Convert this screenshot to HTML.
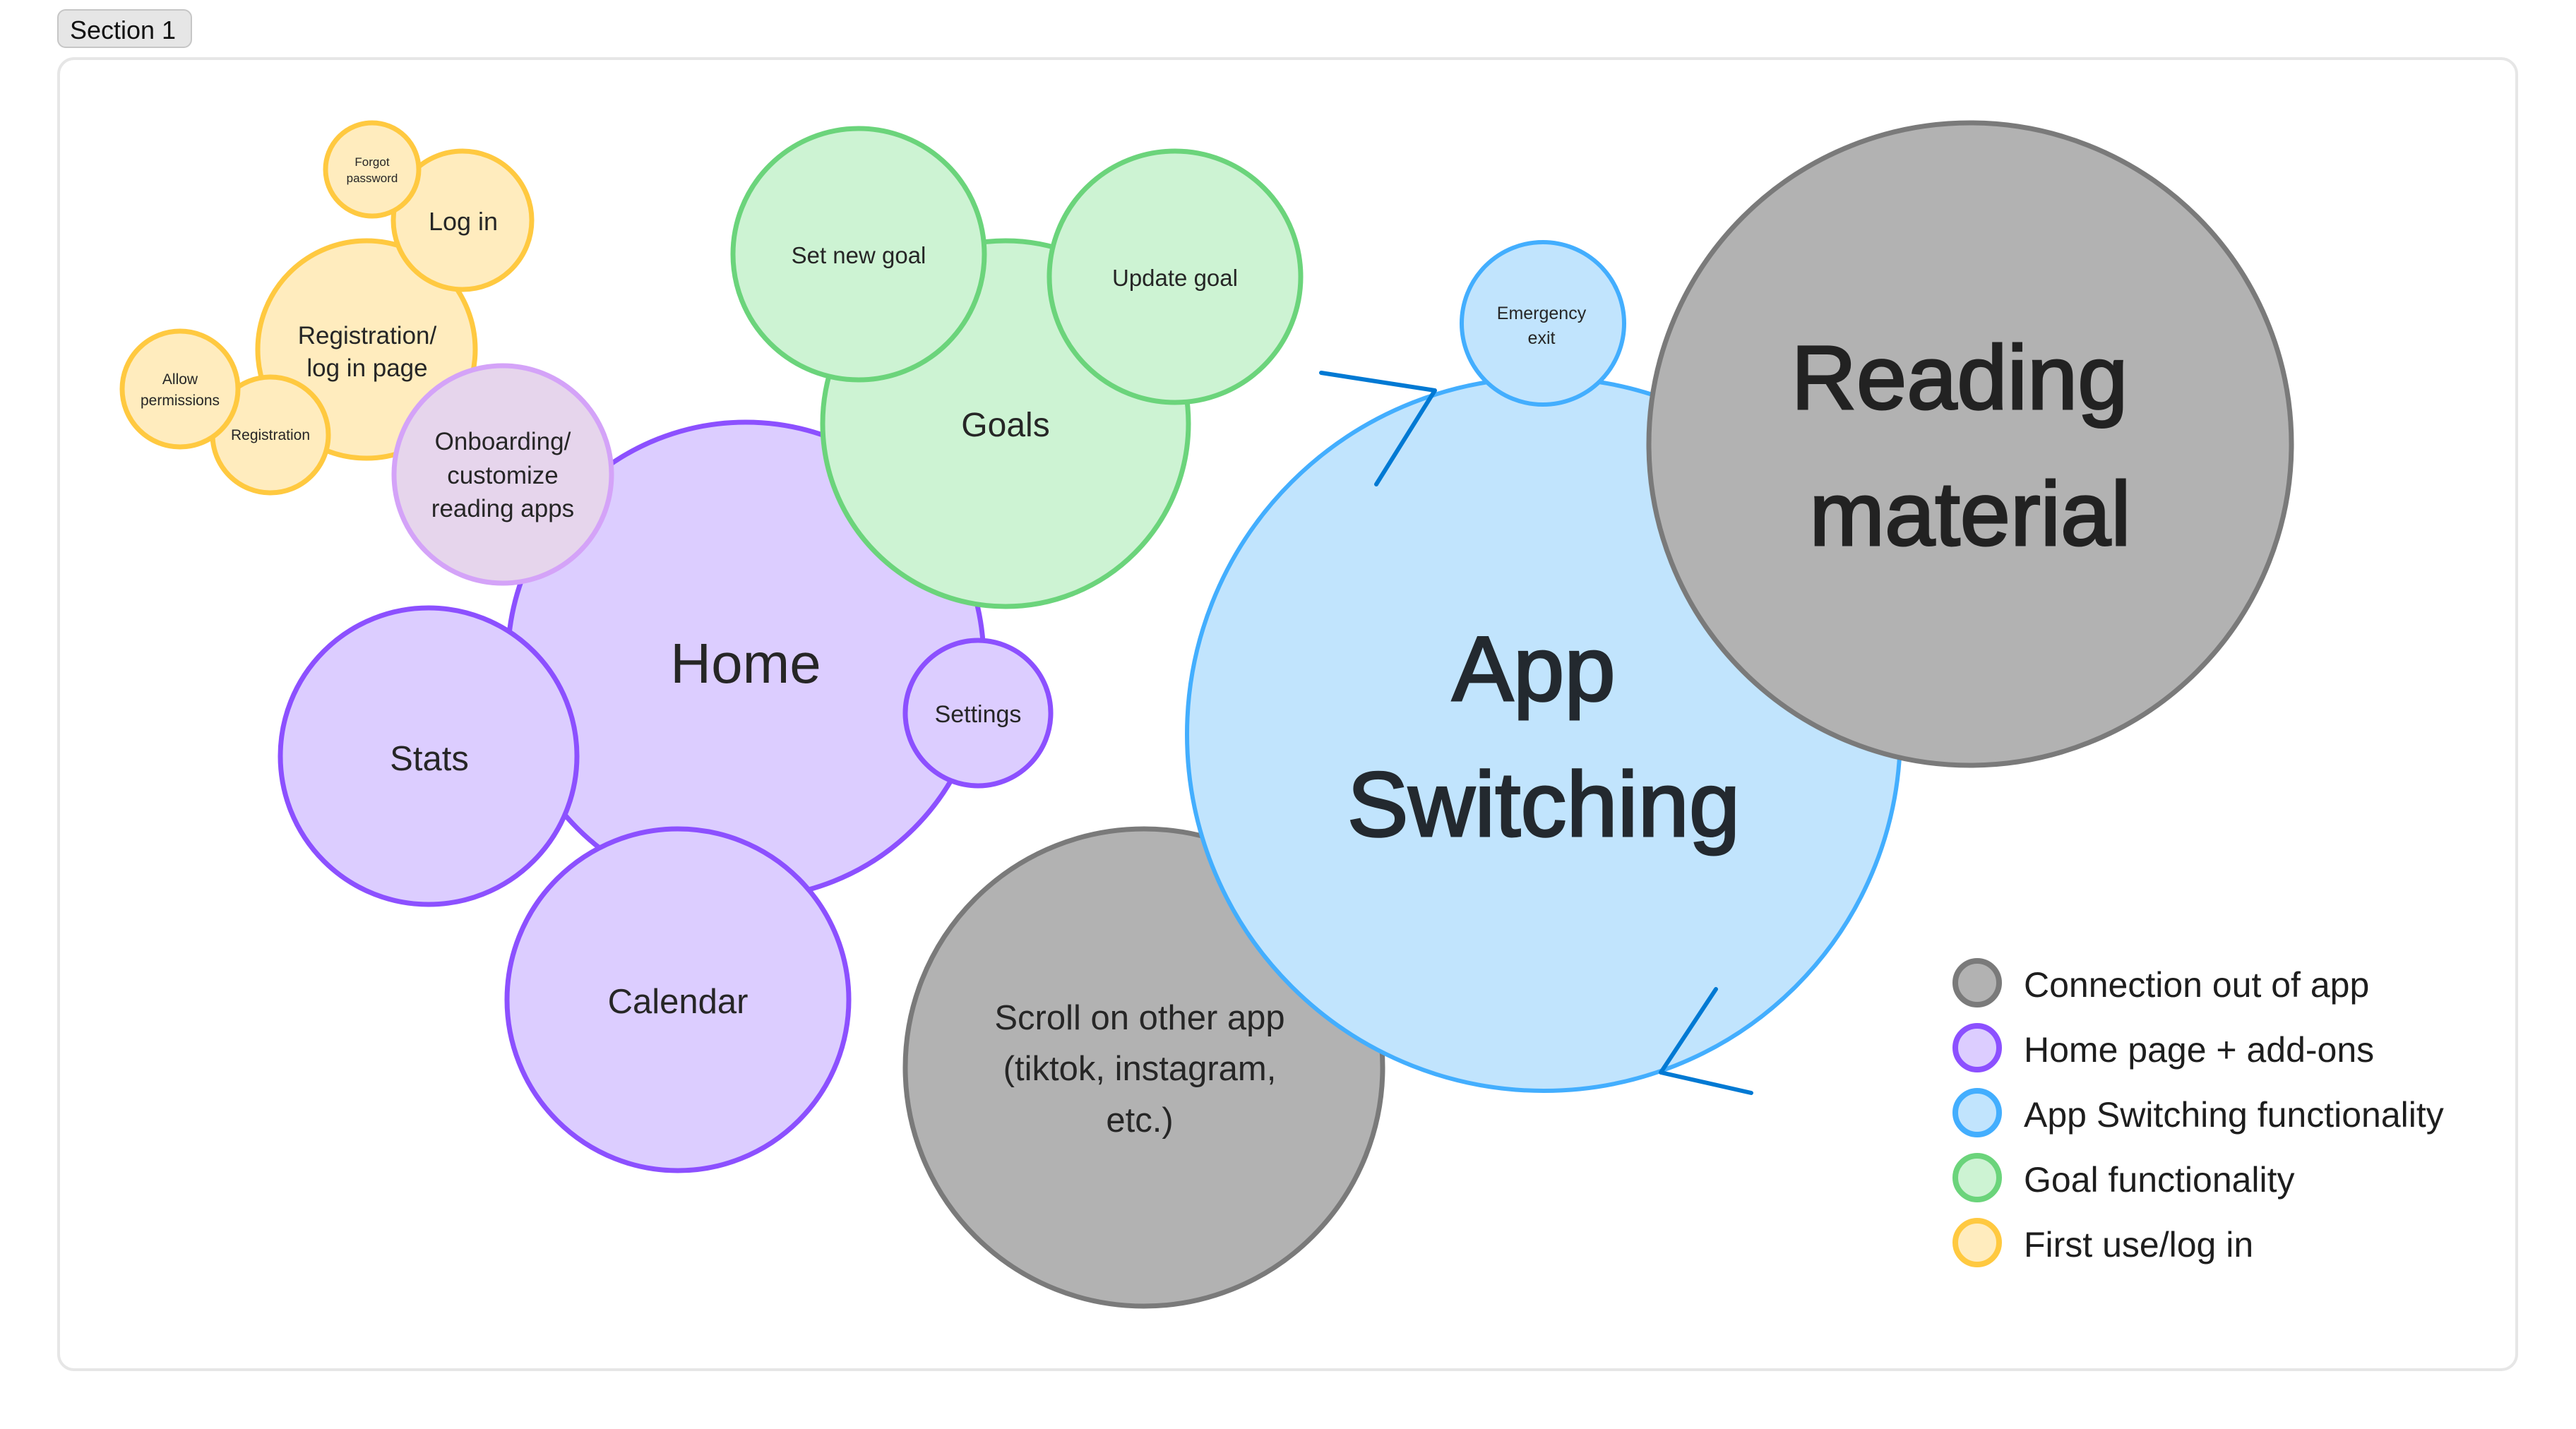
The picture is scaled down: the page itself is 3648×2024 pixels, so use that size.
<!DOCTYPE html>
<html>
<head>
<meta charset="utf-8">
<style>
  html, body { margin: 0; padding: 0; background: #ffffff; }
  body { width: 3648px; height: 2024px; overflow: hidden; }
  svg { display: block; }
  text { font-family: "Liberation Sans", "DejaVu Sans", sans-serif; fill: #262626; text-anchor: middle; }
</style>
</head>
<body>
<svg width="3648" height="2024" viewBox="0 0 3648 2024" xmlns="http://www.w3.org/2000/svg">
  <!-- Section label -->
  <rect x="82" y="14" width="189" height="53" rx="11" fill="#e6e6e6" stroke="#c6c6c6" stroke-width="2"/>
  <text x="174" y="55" font-size="36" style="fill:#111">Section 1</text>

  <!-- Card -->
  <rect x="83" y="83" width="3481" height="1857" rx="22" fill="#ffffff" stroke="#e6e6e6" stroke-width="4"/>

  <!-- Home group -->
  <circle cx="1056" cy="935" r="337" fill="#dccdff" stroke="#8c50ff" stroke-width="7"/>

  <!-- Goals group -->
  <circle cx="1424" cy="600" r="259" fill="#cdf3d3" stroke="#6bd47b" stroke-width="7"/>
  <circle cx="1216" cy="360" r="178" fill="#cdf3d3" stroke="#6bd47b" stroke-width="7"/>
  <circle cx="1664" cy="392" r="178" fill="#cdf3d3" stroke="#6bd47b" stroke-width="7"/>
  <text x="1424" y="618" font-size="48">Goals</text>
  <text x="1216" y="373" font-size="33">Set new goal</text>
  <text x="1664" y="405" font-size="33">Update goal</text>

  <!-- Home add-ons -->
  <circle cx="607" cy="1071" r="210" fill="#dccdff" stroke="#8c50ff" stroke-width="7"/>
  <circle cx="960" cy="1416" r="242" fill="#dccdff" stroke="#8c50ff" stroke-width="7"/>
  <circle cx="1385" cy="1010" r="103" fill="#dccdff" stroke="#8c50ff" stroke-width="7"/>
  <text x="1056" y="967" font-size="80">Home</text>
  <text x="608" y="1091" font-size="49">Stats</text>
  <text x="960" y="1435" font-size="49">Calendar</text>
  <text x="1385" y="1023" font-size="34">Settings</text>

  <!-- First use / log in -->
  <circle cx="519" cy="495" r="154" fill="#ffecbe" stroke="#ffc940" stroke-width="7"/>
  <circle cx="655" cy="312" r="98" fill="#ffecbe" stroke="#ffc940" stroke-width="7"/>
  <circle cx="527" cy="240" r="66" fill="#ffecbe" stroke="#ffc940" stroke-width="7"/>
  <circle cx="383" cy="616" r="82" fill="#ffecbe" stroke="#ffc940" stroke-width="7"/>
  <circle cx="255" cy="551" r="82" fill="#ffecbe" stroke="#ffc940" stroke-width="7"/>
  <text x="520" y="487" font-size="35">Registration/</text>
  <text x="520" y="533" font-size="35">log in page</text>
  <text x="656" y="326" font-size="36">Log in</text>
  <text x="527" y="235" font-size="17">Forgot</text>
  <text x="527" y="258" font-size="17">password</text>
  <text x="383" y="623" font-size="21">Registration</text>
  <text x="255" y="544" font-size="21">Allow</text>
  <text x="255" y="574" font-size="21">permissions</text>

  <!-- Onboarding -->
  <circle cx="712" cy="672" r="154" fill="#e6d5ec" stroke="#d4a3f8" stroke-width="7"/>
  <text x="712" y="637" font-size="35">Onboarding/</text>
  <text x="712" y="685" font-size="35">customize</text>
  <text x="712" y="732" font-size="35">reading apps</text>

  <!-- Scroll on other app -->
  <circle cx="1620" cy="1512" r="338" fill="#b2b2b2" stroke="#7a7a7a" stroke-width="7"/>
  <text x="1614" y="1458" font-size="49">Scroll on other app</text>
  <text x="1614" y="1530" font-size="49">(tiktok, instagram,</text>
  <text x="1614" y="1603" font-size="49">etc.)</text>

  <!-- App Switching -->
  <circle cx="2186" cy="1040" r="505" fill="#c1e4fd" stroke="#43aefe" stroke-width="6"/>
  <circle cx="2185" cy="458" r="115" fill="#c1e4fd" stroke="#43aefe" stroke-width="6"/>
  <text x="2183" y="452" font-size="25">Emergency</text>
  <text x="2183" y="487" font-size="25">exit</text>
  <text x="2172" y="992" font-size="130" style="fill:#23292f;stroke:#23292f;stroke-width:3">App</text>
  <text x="2186" y="1184" font-size="130" style="fill:#23292f;stroke:#23292f;stroke-width:3">Switching</text>

  <!-- Reading material -->
  <circle cx="2790" cy="629" r="455" fill="#b2b2b2" stroke="#7a7a7a" stroke-width="7"/>
  <text x="2775" y="579" font-size="128" style="fill:#222;stroke:#222;stroke-width:3">Reading</text>
  <text x="2790" y="772" font-size="128" style="fill:#222;stroke:#222;stroke-width:3">material</text>

  <!-- Arrowheads -->
  <g stroke="#0079d3" stroke-width="6" stroke-linecap="round" stroke-linejoin="round" fill="none">
    <polyline points="1871,528 2032,553 1949,686"/>
    <polyline points="2430,1401 2352,1519 2480,1548"/>
  </g>

  <!-- Legend -->
  <g stroke-width="8">
    <circle cx="2800" cy="1392" r="31" fill="#b2b2b2" stroke="#7a7a7a"/>
    <circle cx="2800" cy="1484" r="31" fill="#dccdff" stroke="#8c50ff"/>
    <circle cx="2800" cy="1576" r="31" fill="#c1e4fd" stroke="#43aefe"/>
    <circle cx="2800" cy="1668" r="31" fill="#cdf3d3" stroke="#6bd47b"/>
    <circle cx="2800" cy="1760" r="31" fill="#ffecbe" stroke="#ffc940"/>
  </g>
  <g>
    <text x="2866" y="1412" font-size="50" style="text-anchor:start;fill:#1e1e1e">Connection out of app</text>
    <text x="2866" y="1504" font-size="50" style="text-anchor:start;fill:#1e1e1e">Home page + add-ons</text>
    <text x="2866" y="1596" font-size="50" style="text-anchor:start;fill:#1e1e1e">App Switching functionality</text>
    <text x="2866" y="1688" font-size="50" style="text-anchor:start;fill:#1e1e1e">Goal functionality</text>
    <text x="2866" y="1780" font-size="50" style="text-anchor:start;fill:#1e1e1e">First use/log in</text>
  </g>
</svg>
</body>
</html>
